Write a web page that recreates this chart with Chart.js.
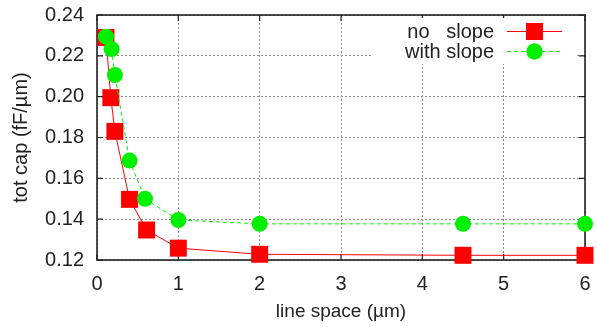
<!DOCTYPE html>
<html>
<head>
<meta charset="utf-8">
<script src="https://cdn.jsdelivr.net/npm/chart.js@4/dist/chart.umd.min.js"></script>
<style>
  html, body { margin: 0; padding: 0; background: #fff; }
  #chart { display: block; }
</style>
</head>
<body>
<canvas id="chart" width="597" height="327"></canvas>
<script>
'use strict';

// ---- Data ----

const spaceNoSlope   = [0.11, 0.17, 0.22, 0.40, 0.61, 1.0, 2.0, 4.5, 6.0];
const capNoSlope     = [0.229, 0.1995, 0.183, 0.1497, 0.1347, 0.1258, 0.1228, 0.1223, 0.1223];
const spaceWithSlope = [0.11, 0.18, 0.22, 0.40, 0.59, 1.0, 2.0, 4.5, 6.0];
const capWithSlope   = [0.2294, 0.2233, 0.2106, 0.1687, 0.150, 0.1396, 0.1377, 0.1377, 0.1377];

const xTicks = [0, 1, 2, 3, 4, 5, 6];
const yTicks = [0.12, 0.14, 0.16, 0.18, 0.20, 0.22, 0.24];
const seriesLabels = ['no   slope', 'with slope'];

const FONT = 'Liberation Sans, Arial, Helvetica, sans-serif';
const TEXT = '#222';
const RED = '#ff0000';
const GREEN = '#00f000';

const toPoints = (xs, ys) => xs.map((x, i) => ({ x, y: ys[i] }));

// ---- Frame, inner ticks and key (gnuplot look) ----

const framePlugin = {
  id: 'frame',
  beforeDatasetsDraw(chart) {
    const { ctx, chartArea: a, scales } = chart;
    ctx.save();
    ctx.strokeStyle = TEXT;
    ctx.lineWidth = 1.2;
    ctx.beginPath();
    for (const v of xTicks) {
      const px = scales.x.getPixelForValue(v);
      ctx.moveTo(px, a.bottom); ctx.lineTo(px, a.bottom - 6);
      ctx.moveTo(px, a.top);    ctx.lineTo(px, a.top + 6);
    }
    for (const v of yTicks) {
      const py = scales.y.getPixelForValue(v);
      ctx.moveTo(a.left, py);  ctx.lineTo(a.left + 6, py);
      ctx.moveTo(a.right, py); ctx.lineTo(a.right - 6, py);
    }
    ctx.stroke();
    ctx.lineWidth = 1.6;
    ctx.strokeRect(a.left, a.top, a.right - a.left, a.bottom - a.top);
    ctx.restore();
  },
  afterDatasetsDraw(chart) {
    const { ctx } = chart;
    const rows = [
      { label: seriesLabels[0], y: 31.5, color: RED, dash: [], style: 'rect', r: 12 },
      { label: seriesLabels[1], y: 51.5, color: GREEN, dash: [4, 3], style: 'circle', r: 8 },
    ];
    ctx.save();
    ctx.fillStyle = '#fff';
    ctx.fillRect(372, 18, 204, 46);
    ctx.font = `20px ${FONT}`;
    ctx.textAlign = 'right';
    ctx.textBaseline = 'middle';
    for (const row of rows) {
      ctx.fillStyle = TEXT;
      ctx.fillText(row.label, 494, row.y + 1);
      ctx.strokeStyle = row.color;
      ctx.lineWidth = 1;
      ctx.setLineDash(row.dash);
      ctx.beginPath();
      ctx.moveTo(507, row.y); ctx.lineTo(562, row.y);
      ctx.stroke();
      ctx.setLineDash([]);
      ctx.fillStyle = row.color;
      Chart.helpers.drawPoint(ctx, { pointStyle: row.style, radius: row.r, borderWidth: 0 }, 534.5, row.y);
      ctx.fill();
    }
    ctx.restore();
  },
};

// ---- Chart ----

const grid = {
  color: '#8a8a8a',
  lineWidth: 1,
  drawTicks: false,
};

new Chart(document.getElementById('chart'), {
  type: 'scatter',
  data: {
    datasets: [
      {
        label: seriesLabels[0],
        data: toPoints(spaceNoSlope, capNoSlope),
        showLine: true,
        borderColor: RED,
        backgroundColor: RED,
        borderWidth: 1,
        pointStyle: 'rect',
        pointRadius: 12,
        pointBorderWidth: 0,
        order: 1,
        clip: false,
      },
      {
        label: seriesLabels[1],
        data: toPoints(spaceWithSlope, capWithSlope),
        showLine: true,
        borderColor: GREEN,
        backgroundColor: GREEN,
        borderWidth: 1,
        borderDash: [4, 3],
        pointStyle: 'circle',
        pointRadius: 8,
        pointBorderWidth: 0,
        order: 0,
        clip: false,
      },
    ],
  },
  options: {
    responsive: false,
    animation: false,
    devicePixelRatio: 1,
    layout: { padding: { top: 15, right: 10, left: 0, bottom: 0 } },
    plugins: { legend: { display: false }, tooltip: { enabled: false } },
    scales: {
      x: {
        type: 'linear',
        min: 0, max: 6,
        afterFit(scale) {
          scale.height = 67;
          scale.paddingLeft = 0;
          scale.paddingRight = 0;
        },
        afterBuildTicks(scale) { scale.ticks = xTicks.map(v => ({ value: v })); },
        grid: { ...grid },
        border: { display: false, dash: [2, 2] },
        ticks: {
          color: TEXT, padding: 12,
          font: { family: FONT, size: 20 },
          callback: v => String(v),
        },
        title: {
          display: true, text: 'line space (\u00b5m)', color: TEXT,
          font: { family: FONT, size: 19 },
          padding: { top: 0, bottom: 4 },
        },
      },
      y: {
        type: 'linear',
        min: 0.12, max: 0.24,
        afterFit(scale) {
          scale.width = 97;
          scale.paddingTop = 0;
          scale.paddingBottom = 0;
        },
        afterBuildTicks(scale) { scale.ticks = yTicks.map(v => ({ value: v })); },
        grid: { ...grid },
        border: { display: false, dash: [2, 2] },
        ticks: {
          color: TEXT, padding: 13,
          font: { family: FONT, size: 20 },
          callback: v => v.toFixed(2),
        },
        title: {
          display: true, text: 'tot cap (fF/\u00b5m)', color: TEXT,
          font: { family: FONT, size: 20 },
          padding: { top: 9, bottom: 0 },
        },
      },
    },
  },
  plugins: [framePlugin],
});
</script>
</body>
</html>
